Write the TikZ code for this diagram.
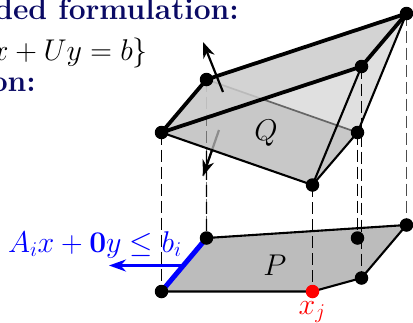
\documentclass[tikz,border=0pt]{standalone}
\usepackage{fix-cm}
\usepackage{amsmath,amssymb}
\usepackage{tikz}
\usetikzlibrary{arrows.meta,positioning,calc}
\usepackage{xcolor}
\definecolor{HeadNavy}{RGB}{10,10,100}
\definecolor{FaceDark}{RGB}{188,188,188}
\definecolor{FaceLight}{RGB}{224,224,224}
\definecolor{FaceMid}{RGB}{200,200,200}
\definecolor{FaceTop}{RGB}{208,208,208}
\begin{document}
\begin{tikzpicture}[x=1pt,y=-1pt, every node/.style={font=\fontsize{30}{34}\selectfont},
  v/.style={circle,fill=black,inner sep=0pt,minimum size=13.5pt},
  head/.style={text=HeadNavy,font=\fontsize{30}{34}\selectfont\bfseries,inner sep=0pt},
  drop/.style={dash pattern=on 12pt off 5pt,line width=1.4pt},
  ln/.style={line width=2.1pt},
  rim/.style={line width=3.8pt},
  nrm/.style={-{Stealth[length=16pt,width=12pt]},line width=2.2pt}]
\useasboundingbox (0,0) rectangle (413,322);
% upper points
\coordinate (A) at (161.5,132.5);
\coordinate (B) at (206.5,79.5);
\coordinate (C) at (361.5,66.5);
\coordinate (D) at (406.5,13.5);
\coordinate (E) at (312.5,185);
\coordinate (F) at (357.5,132.5);
% lower points
\coordinate (a) at (161.5,291.5);
\coordinate (b) at (206.5,238);
\coordinate (c) at (361.5,278);
\coordinate (d) at (406.5,225);
\coordinate (e) at (312.5,291.5);
\coordinate (f) at (357.5,238);
% heading text
\node[head,anchor=base east] (t1) at (239,19) {ded formulation:};
\node[anchor=base east,inner sep=0pt] (t2) at (148,60) {$x+Uy=b\}$};
\node[head,anchor=base east] (t3) at (36,91.5) {on:};
% lower polygon
\fill[FaceDark] (a)--(b)--(d)--(c)--(e)--cycle;
\draw[ln] (b)--(d)--(c)--(e)--(a);
% hidden faces
\fill[FaceLight] (B)--(D)--(F)--cycle;
\fill[FaceMid] (A)--(E)--(F)--(B)--cycle;
\draw[line width=1.7pt,black!60] (B)--(F);
\draw[ln] (D)--(F);
\coordinate (nb) at (223,92);
\coordinate (nt) at (203,42);
\coordinate (mb) at (219,130);
\coordinate (mt) at (203,176);
\draw[line width=2.2pt,black!45] (mb)--(mt);
\draw[drop,black!55] (B)--(b);
% front faces
\fill[FaceTop,opacity=.8] (A)--(B)--(D)--(C)--cycle;
\draw[nrm] (nb)--(nt);
\draw[nrm] ($(mb)!.45!(mt)$)--(mt);
\draw[ln] (A)--(E)--(F);
\draw[ln] (E)--(C);
\draw[rim] (A)--(B)--(D)--(C)--cycle;
% drops
\draw[drop] ($(B)!.45!(b)$)--(b);
\draw[drop] (A)--(a);
\draw[drop] (E)--(e);
\draw[drop] (F)--(f);
\draw[drop] (C)--(c);
\draw[drop,line width=1.8pt,black!70] (D)--(d);
% highlighted edge
\draw[line width=5pt,blue] (a)--(b);
\coordinate (g) at (182,265.5);
\coordinate (h) at (109,265.5);
\draw[-{Stealth[length=17pt,width=12pt]},line width=3pt,blue] (g)--(h);
% vertices
\foreach \n in {A,B,C,D,E,F,a,b,c,d,f}
  \node[v] (v\n) at (\n) {};
\node[v,fill=red] (ve) at (e) {};
% labels
\node (lQ) at (266,133) {$Q$};
\node (lP) at (275,265) {$P$};
\node[text=red,inner sep=0pt,anchor=base] (lx) at (312,314) {$x_j$};
\node[text=blue,inner sep=0pt,anchor=base west] (lA) at (8,252) {$A_ix+\mathbf{0}y\le b_i$};
\end{tikzpicture}
\end{document}
